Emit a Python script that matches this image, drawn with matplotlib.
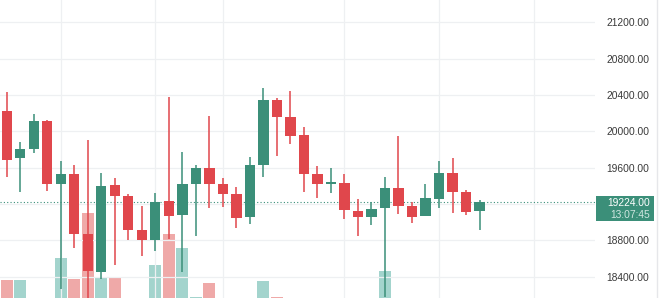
import matplotlib
matplotlib.use('Agg')
import matplotlib.pyplot as plt
import numpy as np

# daily candles
opens = [20227, 19706, 19802, 20117, 19417, 19533, 18873, 18451, 19409, 19288,
         18910, 18804, 19233, 19079, 19417, 19593, 19420, 19307, 19053, 19629,
         20344, 20161, 19959, 19530, 19417, 19434, 19126, 19060, 19153, 19373,
         19181, 19068, 19255, 19544, 19329, 19123]
highs = [20436, 19886, 20187, 20125, 19676, 19629, 19904, 19538, 19489, 19310,
         19181, 19318, 20381, 19769, 19629, 20172, 19483, 19390, 19714, 20473,
         20363, 20447, 20051, 19618, 19593, 19527, 19255, 19225, 19500, 19948,
         19225, 19420, 19673, 19703, 19354, 19244]
lows = [19500, 19335, 19758, 19343, 18264, 18712, 18120, 18371, 18528, 18804,
        18631, 18686, 18815, 18455, 18851, 19153, 19170, 18932, 18976, 19500,
        19731, 19864, 19335, 19263, 19324, 19031, 18848, 18969, 18180, 19087,
        18994, 19068, 19159, 19098, 19079, 18914]
closes = [19687, 19802, 20117, 19417, 19533, 18873, 18459, 19398, 19291, 18914,
          18804, 19225, 19071, 19417, 19593, 19420, 19310, 19042, 19629, 20344,
          20161, 19948, 19530, 19417, 19445, 19131, 19053, 19145, 19373, 19178,
          19060, 19263, 19544, 19329, 19115, 19224]
volumes = [500, 500, 250, 200, 717, 507, 1173, 523, 523, 280,
           300, 650, 957, 817, 333, 473, 260, 240, 300, 490,
           333, 250, 300, 200, 150, 200, 180, 150, 593, 250,
           200, 180, 250, 220, 150, 100]
price_ticks = [18400, 18800, 19600, 20000, 20400, 20800, 21200]
session_breaks = [4, 11, 16, 25, 32, 39]
last_price = 19224
countdown = '13:07:45'

UP = '#3b8f79'
DOWN = '#e0474c'
UP_VOL = '#a3d4cd'
DOWN_VOL = '#efa9a8'


def main():
    plt.rcParams['font.family'] = ['Liberation Sans', 'DejaVu Sans']
    fig = plt.figure(figsize=(6.6, 2.98), dpi=100)
    ax = fig.add_axes([0, 0, 595 / 660, 1])
    vax = ax.twinx()
    ax.set_zorder(vax.get_zorder() + 1)
    ax.patch.set_visible(False)

    ind = np.arange(len(opens))
    o = np.array(opens)
    c = np.array(closes)
    up = c >= o

    # volume (baseline sits below the visible area)
    vcolors = [UP_VOL if u else DOWN_VOL for u in up]
    vax.bar(ind, volumes, 0.9, color=vcolors, zorder=1)
    vax.set_ylim(320, 3300)
    vax.axis('off')

    # grid
    for p in range(18000, 21800, 400):
        ax.axhline(p, color='#eef0f2', lw=0.9, zorder=0)
    for b in session_breaks:
        ax.axvline(b, color='#eef0f2', lw=0.9, zorder=0)

    colors = [UP if u else DOWN for u in up]
    ax.vlines(ind, lows, highs, colors=colors, lw=1.1, zorder=2)
    bottoms = np.minimum(o, c)
    heights = np.maximum(np.abs(c - o), 25)
    ax.bar(ind, heights, 0.76, bottom=bottoms, color=colors, zorder=3)

    ax.axhline(last_price, color=UP, lw=0.8, ls=(0, (1, 2)), zorder=1)

    ax.set_xlim(-0.503, 43.55)
    ax.set_ylim(18165, 21445)
    for s in ax.spines.values():
        s.set_visible(False)
    ax.set_xticks([])
    ax.yaxis.tick_right()
    ax.set_yticks(price_ticks)
    ax.set_yticklabels(['%.2f' % p for p in price_ticks])
    ax.tick_params(axis='y', length=0, pad=8, labelsize=7.4, labelcolor='#3a3a3a')

    # last price tag
    fig.patches.append(plt.Rectangle((596 / 660, 1 - 220.5 / 298), 58 / 660, 25 / 298,
                                     transform=fig.transFigure, color=UP, lw=0))
    fig.text(650.5 / 660, 1 - 203.5 / 298, '%.2f' % last_price, ha='right', va='center',
             color='white', fontsize=7.4)
    fig.text(650.5 / 660, 1 - 214.5 / 298, countdown, ha='right', va='center',
             color='#cfe6e0', fontsize=7.4)

    fig.add_artist(plt.Line2D([657 / 660, 657 / 660], [0, 1], transform=fig.transFigure,
                              color='#e6e7ea', lw=1))

    fig.savefig('out.png', dpi=100)


if __name__ == "__main__":
    main()
